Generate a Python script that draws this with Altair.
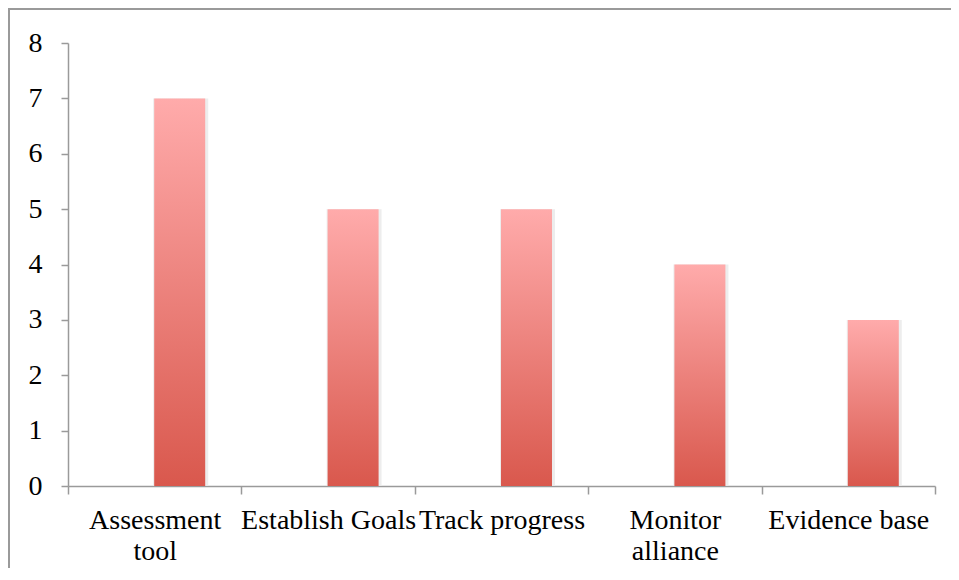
import altair as alt
import pandas as pd

categories = ["Assessment tool", "Establish Goals", "Track progress", "Monitor alliance", "Evidence base"]
values = [7, 5, 5, 4, 3]

df = pd.DataFrame({"category": categories, "value": values})

FONT = "Liberation Serif"
GRAY = "#9a9a9a"

grad = alt.Gradient(
    gradient="linear",
    stops=[alt.GradientStop(color="#FFABAB", offset=0), alt.GradientStop(color="#D9584D", offset=1)],
    x1=0, x2=0, y1=0, y2=1,
)

x_enc = alt.X(
    "category:N",
    sort=categories,
    scale=alt.Scale(paddingInner=0, paddingOuter=0),
    axis=alt.Axis(
        title=None,
        labelAngle=0,
        labelFont=FONT,
        labelFontSize=28,
        labelColor="#000000",
        labelLineHeight=31,
        labelPadding=12,
        labelOverlap=False,
        labelBound=False,
        labelFlush=False,
        labelLimit=300,
        labelExpr="datum.label == 'Assessment tool' || datum.label == 'Monitor alliance' ? split(datum.label, ' ') : datum.label",
        tickBand="extent",
        tickSize=8,
        tickColor=GRAY,
        tickWidth=1.5,
        domainColor=GRAY,
        domainWidth=1.5,
        grid=False,
    ),
)

y_enc = alt.Y(
    "value:Q",
    scale=alt.Scale(domain=[0, 8], nice=False),
    axis=alt.Axis(
        title=None,
        values=list(range(0, 9)),
        labelFont=FONT,
        labelFontSize=28,
        labelColor="#000000",
        labelPadding=19,
        tickSize=7,
        tickColor=GRAY,
        tickWidth=1.5,
        domainColor=GRAY,
        domainWidth=1.5,
        grid=False,
    ),
)

shadow = alt.Chart(df).mark_bar(width=55, xOffset=26, color="#e9e9e9", opacity=0.8).encode(
    x=x_enc, y=y_enc
)

bars = alt.Chart(df).mark_bar(width=51, xOffset=25, color=grad).encode(x=x_enc, y=y_enc)

border_data = alt.Data(values=[{"a": 1}])
border = alt.Chart(border_data).mark_rect(fillOpacity=0, stroke=GRAY, strokeWidth=2).encode(
    x=alt.value(-59), x2=alt.value(1200), y=alt.value(-34), y2=alt.value(1200)
)

chart = alt.layer(border, shadow, bars).properties(
    width=867,
    height=443,
    autosize=alt.AutoSizeParams(type="none"),
    padding={"left": 60, "top": 35, "right": 16, "bottom": 82},
).configure(background="white", view=alt.ViewConfig(stroke=None))

chart.save("out.html", embed_options={"renderer": "svg", "actions": False})
